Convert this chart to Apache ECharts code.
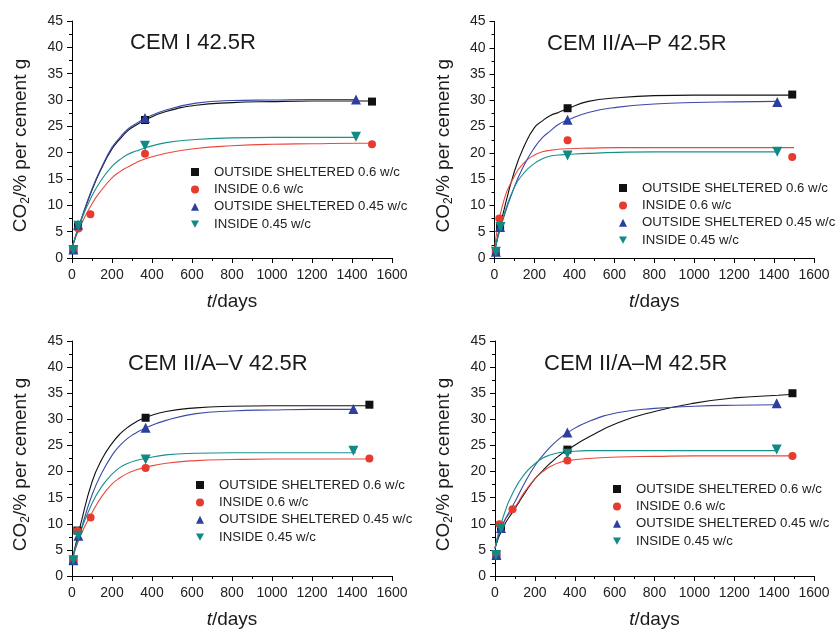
<!DOCTYPE html>
<html>
<head>
<meta charset="utf-8">
<script src="https://cdn.jsdelivr.net/npm/echarts@6/dist/echarts.min.js"></script>
<style>html,body{margin:0;padding:0;background:#fff}#c{width:839px;height:630px}</style>
</head>
<body>
<div id="c"></div>
<script>
// ---------- DATA ----------
const panelTitles = ['CEM I 42.5R', 'CEM II/A\u2013P 42.5R', 'CEM II/A\u2013V 42.5R', 'CEM II/A\u2013M 42.5R'];
const seriesNames = ['OUTSIDE SHELTERED 0.6 w/c', 'INSIDE 0.6 w/c', 'OUTSIDE SHELTERED 0.45 w/c', 'INSIDE 0.45 w/c'];
const xTicks = [0, 200, 400, 600, 800, 1000, 1200, 1400, 1600];
const yTicks = [0, 5, 10, 15, 20, 25, 30, 35, 40, 45];

// measured points [days, CO2 %]
const p1_os06 = [[7, 1.7], [30, 6.0], [365, 26.2], [1500, 29.7]];
const p1_in06 = [[7, 1.7], [32, 5.6], [92, 8.3], [365, 19.8], [1500, 21.6]];
const p1_os045 = [[7, 1.6], [30, 6.3], [365, 26.6], [1420, 30.1]];
const p1_in045 = [[7, 1.5], [32, 6.1], [365, 21.3], [1420, 23.0]];

const p2_os06 = [[7, 1.2], [28, 6.0], [366, 28.5], [1491, 31.1]];
const p2_in06 = [[7, 1.3], [24, 7.5], [366, 22.4], [1491, 19.2]];
const p2_os045 = [[7, 1.2], [28, 5.9], [366, 26.3], [1416, 29.7]];
const p2_in045 = [[7, 1.2], [30, 5.9], [366, 19.5], [1416, 20.2]];

const p3_os06 = [[7, 3.1], [27, 8.7], [368, 30.3], [1487, 32.8]];
const p3_in06 = [[7, 3.0], [27, 8.6], [93, 11.2], [368, 20.7], [1487, 22.5]];
const p3_os045 = [[7, 3.0], [32, 7.7], [368, 28.4], [1407, 32.0]];
const p3_in045 = [[7, 3.0], [32, 7.7], [368, 22.3], [1407, 24.0]];

const p4_os06 = [[7, 4.0], [30, 9.0], [363, 24.2], [1492, 35.0]];
const p4_in06 = [[7, 4.0], [22, 9.9], [88, 12.8], [363, 22.1], [1492, 23.0]];
const p4_os045 = [[7, 4.0], [30, 9.2], [363, 27.5], [1413, 33.1]];
const p4_in045 = [[5, 4.0], [30, 9.1], [363, 23.4], [1413, 24.2]];

// fitted curves at these days
const fitDays = [0, 40, 100, 150, 200, 240, 280, 320, 365, 470, 620, 800, 1000, 1200, 1420, 1500];
const p1_fit_os06 = [1.9, 6.6, 12.9, 17.2, 20.7, 22.6, 24.2, 25.2, 26.2, 27.8, 29.0, 29.5, 29.7, 29.8, 29.8, 29.8];
const p1_fit_in06 = [2.1, 5.9, 10.3, 13.0, 15.2, 16.4, 17.3, 18.1, 18.8, 19.9, 20.8, 21.3, 21.6, 21.7, 21.8, 21.8];
const p1_fit_os045 = [1.9, 6.7, 13.1, 17.4, 21.0, 22.9, 24.5, 25.5, 26.5, 28.1, 29.4, 29.9, 30.0, 30.1, 30.1, null];
const p1_fit_in045 = [1.9, 6.6, 11.8, 15.0, 17.4, 18.7, 19.7, 20.3, 20.9, 21.9, 22.5, 22.8, 22.9, 22.9, 22.9, null];

const p2_fit_os06 = [1.2, 8.0, 16.5, 21.4, 24.8, 26.1, 27.1, 27.7, 28.4, 29.8, 30.5, 30.9, 31.0, 31.0, 31.0, 31.0];
const p2_fit_in06 = [1.5, 10.0, 15.6, 18.2, 19.6, 20.2, 20.5, 20.7, 20.8, 20.9, 21.0, 21.0, 21.0, 21.0, 21.0, 21.0];
const p2_fit_os045 = [1.2, 7.0, 13.6, 17.8, 21.0, 22.9, 24.2, 25.4, 26.2, 27.7, 28.7, 29.3, 29.6, 29.7, 29.8, null];
const p2_fit_in045 = [1.2, 7.4, 13.5, 16.3, 18.0, 18.9, 19.4, 19.6, 19.7, 19.9, 20.1, 20.2, 20.2, 20.2, 20.2, null];

const p3_fit_os06 = [3.0, 9.4, 18.0, 22.4, 25.4, 27.2, 28.5, 29.5, 30.3, 31.5, 32.2, 32.5, 32.6, 32.6, 32.6, 32.6];
const p3_fit_in06 = [3.0, 7.5, 12.1, 15.3, 17.6, 18.8, 19.7, 20.3, 20.8, 21.6, 22.1, 22.3, 22.4, 22.4, 22.4, 22.4];
const p3_fit_os045 = [3.0, 8.2, 15.5, 19.8, 23.1, 25.0, 26.4, 27.4, 28.3, 29.8, 31.1, 31.6, 31.8, 31.9, 31.9, null];
const p3_fit_in045 = [3.0, 8.2, 13.9, 17.2, 19.5, 20.8, 21.6, 22.1, 22.5, 23.2, 23.5, 23.6, 23.6, 23.6, 23.6, null];

const p4_fit_os06 = [5.3, 9.3, 12.9, 15.9, 18.6, 20.2, 21.7, 23.0, 24.2, 26.6, 29.4, 31.5, 33.1, 34.1, 34.6, 34.8];
const p4_fit_in06 = [5.3, 10.1, 13.2, 16.2, 18.6, 20.0, 21.0, 21.7, 22.1, 22.5, 22.8, 22.9, 23.0, 23.0, 23.0, 23.0];
const p4_fit_os045 = [5.3, 9.9, 14.2, 17.9, 21.1, 23.1, 24.8, 26.2, 27.5, 29.6, 31.3, 32.1, 32.5, 32.7, 32.8, null];
const p4_fit_in045 = [5.3, 11.2, 16.7, 19.6, 21.5, 22.6, 23.2, 23.6, 23.8, 24.0, 24.0, 24.0, 24.0, 24.0, 24.0, null];

// ---------- STYLE / LAYOUT ----------
const points = [
  [p1_os06, p1_in06, p1_os045, p1_in045],
  [p2_os06, p2_in06, p2_os045, p2_in045],
  [p3_os06, p3_in06, p3_os045, p3_in045],
  [p4_os06, p4_in06, p4_os045, p4_in045]
];
const fits = [
  [p1_fit_os06, p1_fit_in06, p1_fit_os045, p1_fit_in045],
  [p2_fit_os06, p2_fit_in06, p2_fit_os045, p2_fit_in045],
  [p3_fit_os06, p3_fit_in06, p3_fit_os045, p3_fit_in045],
  [p4_fit_os06, p4_fit_in06, p4_fit_os045, p4_fit_in045]
];
const colors = ['#111111', '#e63b2e', '#2d3f9e', '#108a84'];
const lineColors = ['#111111', '#e8493d', '#3a4aa8', '#17928b'];
const symbols = ['rect', 'circle', 'triangle', 'triangle'];
const symbolRot = [0, 0, 0, 180];
const symbolSizes = [8, 8, 10, 10];
const legendIcons = ['rect', 'circle', 'triangle', 'path://M0,0L10,0L5,9Z'];

const grids = [
  {left: 72, top: 21, width: 320, height: 237},
  {left: 494.5, top: 21.5, width: 319.5, height: 236.5},
  {left: 72, top: 341, width: 320, height: 237},
  {left: 495, top: 341, width: 319, height: 237}
];
const titlePos = [[130, 32], [547, 33], [128, 353], [544, 353]];
const legendPos = [[191, 165.5], [619, 181.5], [196, 478.5], [613, 482.5]];

const FONT = '"Liberation Sans", Arial, Helvetica, sans-serif';
const TXT = '#222';

const option = {
  animation: false,
  backgroundColor: '#fff',
  textStyle: {fontFamily: FONT},
  grid: grids.map(g => Object.assign({containLabel: false}, g)),
  title: panelTitles.map((t, i) => ({
    text: t, left: titlePos[i][0], top: titlePos[i][1], padding: 0,
    textStyle: {fontSize: 22, fontWeight: 'normal', color: '#1a1a1a', fontFamily: FONT}
  })),
  legend: legendPos.map((p, i) => ({
    left: p[0], top: p[1], orient: 'vertical', padding: 0,
    itemWidth: 8, itemHeight: 8, itemGap: 4.4, selectedMode: false,
    textStyle: {fontSize: 13.2, color: TXT, fontFamily: FONT, lineHeight: 13, padding: [0, 0, 0, 10]},
    data: seriesNames.map((n, k) => ({name: n, icon: legendIcons[k]}))
  })),
  xAxis: grids.map((g, i) => ({
    type: 'value', gridIndex: i, min: 0, max: 1600, interval: 200,
    name: '{i|t}{n|/days}', nameLocation: 'middle', nameGap: 34,
    nameTextStyle: {rich: {
      i: {fontSize: 19, fontStyle: 'italic', color: '#1a1a1a', fontFamily: FONT},
      n: {fontSize: 19, color: '#1a1a1a', fontFamily: FONT}
    }},
    axisLine: {show: true, onZero: false, lineStyle: {color: '#000', width: 1}},
    axisTick: {show: true, inside: false, length: 5, lineStyle: {color: '#000'}},
    minorTick: {show: true, splitNumber: 2, length: 3, lineStyle: {color: '#000'}},
    splitLine: {show: false},
    axisLabel: {fontSize: 14, color: TXT, margin: 10, fontFamily: FONT,
      formatter: v => xTicks.includes(v) ? String(v) : ''}
  })),
  yAxis: grids.map((g, i) => ({
    type: 'value', gridIndex: i, min: 0, max: 45, interval: 5,
    name: '{a|CO}{s|2}{a|/% per cement g}', nameLocation: 'middle', nameGap: 40,
    nameTextStyle: {padding: [0, 0, 0, -12], rich: {
      a: {fontSize: 19, color: '#1a1a1a', fontFamily: FONT, lineHeight: 22},
      s: {fontSize: 12, color: '#1a1a1a', fontFamily: FONT, lineHeight: 22, verticalAlign: 'bottom'}
    }},
    axisLine: {show: true, onZero: false, lineStyle: {color: '#000', width: 1}},
    axisTick: {show: true, inside: false, length: 5, lineStyle: {color: '#000'}},
    minorTick: {show: true, splitNumber: 2, length: 3, lineStyle: {color: '#000'}},
    splitLine: {show: false},
    axisLabel: {fontSize: 14, color: TXT, margin: 9, fontFamily: FONT,
      formatter: v => yTicks.includes(v) ? String(v) : ''}
  })),
  series: []
};

for (let p = 0; p < 4; p++) {
  for (let k = 0; k < 4; k++) {
    option.series.push({
      type: 'line', name: 'fit ' + p + '-' + k, xAxisIndex: p, yAxisIndex: p,
      data: fitDays.map((d, j) => [d, fits[p][k][j]]),
      smooth: 0.5, showSymbol: false, symbol: 'none',
      connectNulls: false, silent: true, z: 2,
      lineStyle: {color: lineColors[k], width: 1.1}
    });
  }
}
for (let p = 0; p < 4; p++) {
  for (let k = 0; k < 4; k++) {
    option.series.push({
      type: 'scatter', name: seriesNames[k], xAxisIndex: p, yAxisIndex: p,
      data: points[p][k], symbol: symbols[k], symbolRotate: symbolRot[k],
      symbolSize: symbolSizes[k], z: 3,
      itemStyle: {color: colors[k], opacity: 1}
    });
  }
}

const chart = echarts.init(document.getElementById('c'), null, {renderer: 'canvas'});
chart.setOption(option);
</script>
</body>
</html>
